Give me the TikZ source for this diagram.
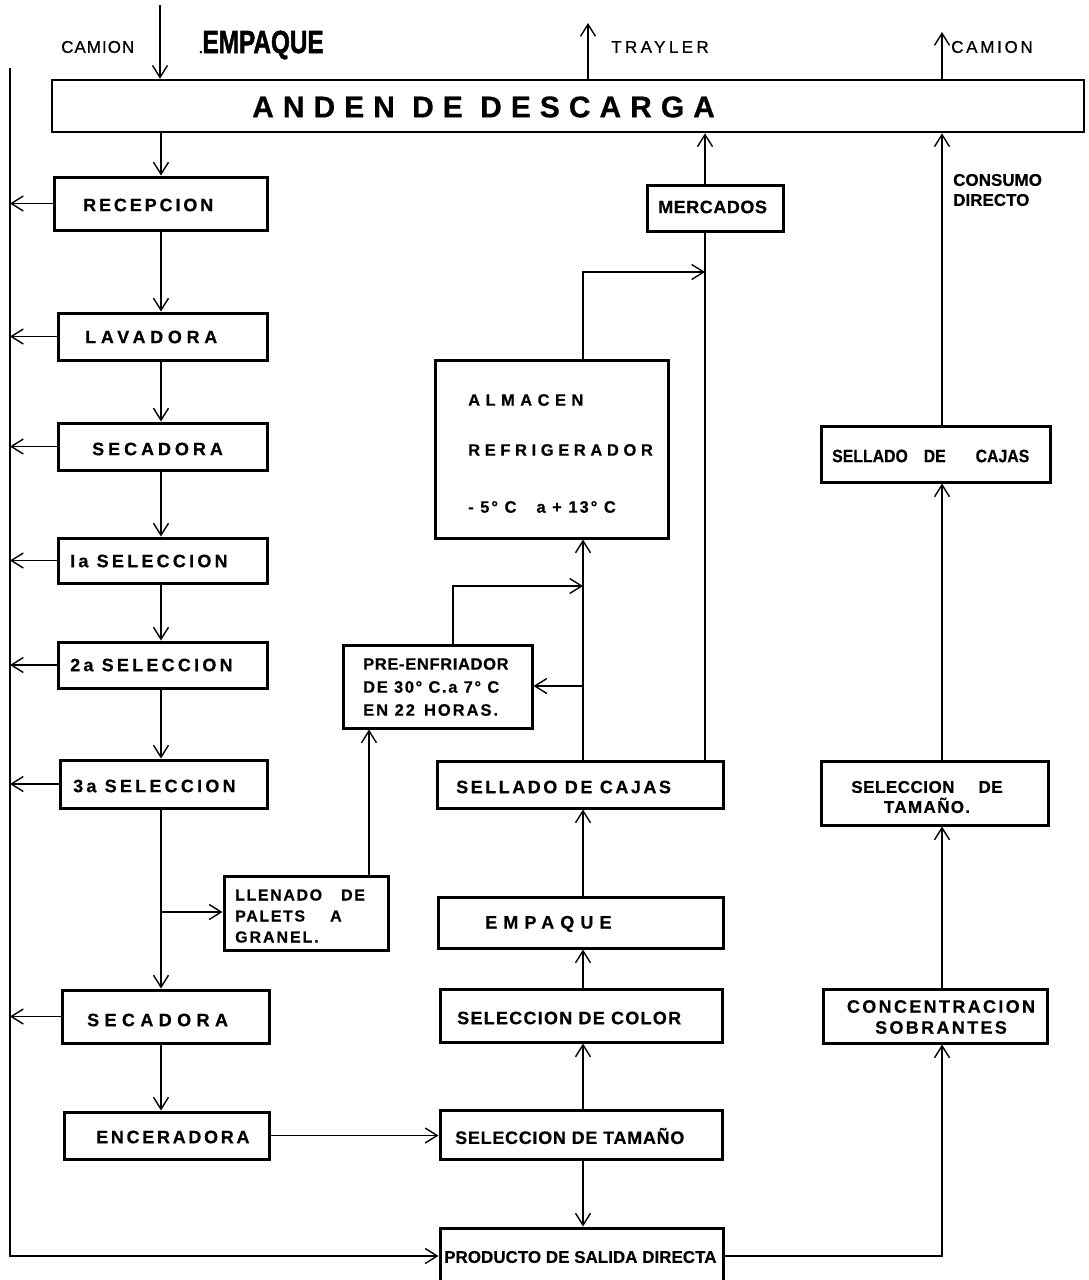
\documentclass[tikz,border=0pt]{standalone}
\usepackage{fontspec}
\setmainfont{Liberation Sans}
\newfontfamily\heavy[FakeBold=1.8]{Liberation Sans Bold}
\newfontfamily\lblfont[FakeBold=0.5]{Liberation Sans Bold}
\newfontfamily\smlfont[FakeBold=0.8]{Liberation Sans}
\usepackage{graphicx}
\usetikzlibrary{arrows.meta,fit}
\newcommand\lsp[2]{{\addfontfeature{LetterSpace=#1}#2}}
\begin{document}
\begin{tikzpicture}[x=1pt,y=-1pt,
  box/.style={draw, line width=3pt, inner sep=0pt},
  lbl/.style={font=\lblfont\fontsize{18}{18}\selectfont, anchor=west, inner sep=0pt},
  sml/.style={font=\smlfont\fontsize{17}{17}\selectfont, anchor=west, inner sep=0pt},
  conn/.style={line width=1.4pt, -{Straight Barb[length=12pt,width=15pt]}},
  plain/.style={line width=1.4pt}]
\useasboundingbox (0,0) rectangle (1089,1280);
% boxes
\node[box, line width=2.6pt, fit={(52,80) (1084,132)}] (anden) {};
\node[box, fit={(54,177) (267,230)}] (rec) {};
\node[box, fit={(58,313) (267,360)}] (lav) {};
\node[box, fit={(58,423) (267,470)}] (sec1) {};
\node[box, fit={(58,538) (267,583)}] (s1) {};
\node[box, fit={(58,642) (267,688)}] (s2) {};
\node[box, fit={(60,760) (267,808)}] (s3) {};
\node[box, fit={(62,990) (269,1043)}] (sec2) {};
\node[box, fit={(64,1112) (269,1159)}] (enc) {};
\node[box, fit={(224,876) (388,950)}] (llen) {};
\node[box, fit={(343,645) (532,728)}] (pre) {};
\node[box, fit={(435,360) (668,538)}] (alm) {};
\node[box, fit={(647,185) (783,231)}] (merc) {};
\node[box, fit={(437,761) (723,808)}] (sell1) {};
\node[box, fit={(438,897) (723,948)}] (emp) {};
\node[box, fit={(440,989) (722,1042)}] (col) {};
\node[box, fit={(440,1110) (722,1159)}] (stam) {};
\node[box, fit={(440,1228) (723,1282)}] (prod) {};
\node[box, fit={(821,426) (1050,482)}] (sell2) {};
\node[box, fit={(821,761) (1048,825)}] (stam2) {};
\node[box, fit={(823,989) (1047,1043)}] (conc) {};
% texts
\node[sml] (tcamL) at (61,47) {\lsp{6}{CAMION}};
\node[lbl, font=\heavy\fontsize{32}{32}\selectfont] (ttit) at (199,45) {{\fontsize{12}{12}\selectfont.}\scalebox{0.76}[1]{EMPAQUE}};
\node[sml] (ttray) at (611,47) {\lsp{20}{TRAYLER}};
\node[sml] (tcamR) at (951,47) {\lsp{16}{CAMION}};
\node[lbl, font=\lblfont\fontsize{30}{30}\selectfont] (tanden) at (252,107) {\lsp{30}{ANDEN DE DESCARGA}};
\node[lbl] (trec) at (83,205) {\lsp{16}{RECEPCION}};
\node[lbl] (tlav) at (85,337) {\lsp{26}{LAVADORA}};
\node[lbl] (tsec1) at (92,449) {\lsp{22}{SECADORA}};
\node[lbl] (ts1) at (70,561) {\lsp{18}{Ia SELECCION}};
\node[lbl] (ts2) at (70,665) {\lsp{18}{2a SELECCION}};
\node[lbl] (ts3) at (73,786) {\lsp{18}{3a SELECCION}};
\node[lbl] (tsec2) at (87,1020) {\lsp{30}{SECADORA}};
\node[lbl] (tenc) at (96,1137) {\lsp{15}{ENCERADORA}};
\node[lbl, font=\lblfont\fontsize{16}{21}\selectfont, align=left] (tllen) at (235,916)
  {\lsp{10}{LLENADO\hspace{19pt}DE}\\\lsp{10}{PALETS\hspace{25pt}A}\\\lsp{12}{GRANEL.}};
\node[lbl, font=\lblfont\fontsize{16.5}{23}\selectfont, align=left] (tpre) at (363,687)
  {\lsp{4}{PRE-ENFRIADOR}\\\lsp{10}{DE 30° C.a 7° C}\\\lsp{12}{EN 22\hspace{9pt}HORAS.}};
\node[lbl, font=\lblfont\fontsize{16.5}{16.5}\selectfont] (talm1) at (468,400) {\lsp{33}{ALMACEN}};
\node[lbl, font=\lblfont\fontsize{16.5}{16.5}\selectfont] (talm2) at (468,450) {\lsp{28}{REFRIGERADOR}};
\node[lbl, font=\lblfont\fontsize{16.5}{16.5}\selectfont] (talm3) at (468,507) {\lsp{12}{- 5° C\hspace{20pt}a + 13° C}};
\node[lbl] (tmerc) at (658,207) {\lsp{3}{MERCADOS}};
\node[lbl, font=\lblfont\fontsize{17}{20}\selectfont, align=left] (tcons) at (953,190) {CONSUMO\\DIRECTO};
\node[lbl] (tsell1) at (456,787) {\lsp{14}{SELLADO DE CAJAS}};
\node[lbl] (temp) at (485,924) {\lsp{34}{EMPAQUE}};
\node[lbl] (tcol) at (457,1018) {\lsp{7}{SELECCION DE COLOR}};
\node[lbl] (tstam) at (455,1136) {\lsp{4}{SELECCION DE TAMAÑO}};
\node[lbl, font=\lblfont\fontsize{17}{17}\selectfont] (tprod) at (444,1257) {PRODUCTO DE SALIDA DIRECTA};
\node[lbl] (tsell2) at (832,456) {\scalebox{0.88}[1]{SELLADO\hspace{18pt}DE\hspace{34pt}CAJAS}};
\node[lbl, anchor=center, font=\lblfont\fontsize{17}{20}\selectfont, align=center] (tstam2) at (927,797)
  {\lsp{3}{SELECCION\hspace{24pt}DE}\\\lsp{8}{TAMAÑO.}};
\node[lbl, anchor=center, font=\lblfont\fontsize{18}{21}\selectfont, align=center] (tconc) at (941,1017)
  {\lsp{13}{CONCENTRACION}\\\lsp{13}{SOBRANTES}};
% coordinates
\coordinate (colM) at (161,0);
\coordinate (colA) at (583,0);
\coordinate (colB) at (705,0);
\coordinate (colC) at (942,0);
\coordinate (colL) at (369,0);
\coordinate (colP) at (453,0);
\coordinate (camin) at (160,5);
\coordinate (trayout) at (588,23);
\coordinate (camout) at (942,32);
\coordinate (bustop) at (10,68);
\coordinate (busbot) at (10,1256);
\coordinate (b912) at (161,912);
\coordinate (p586) at (453,586);
\coordinate (a272) at (583,272);
\coordinate (a686) at (583,686);
\coordinate (pr1256) at (942,1256);
% top arrows
\draw[conn] (camin) -- (camin |- anden.north);
\draw[conn] (trayout |- anden.north) -- (trayout);
\draw[conn] (camout |- anden.north) -- (camout);
% left bus
\draw[conn] (bustop) -- (busbot) -- (busbot -| prod.west);
\foreach \b in {rec,lav,sec1,s1,s2,s3,sec2}
  \draw[conn] (\b.west) -- (\b.west -| bustop);
% main column
\draw[conn] (colM |- anden.south) -- (colM |- rec.north);
\draw[conn] (colM |- rec.south) -- (colM |- lav.north);
\draw[conn] (colM |- lav.south) -- (colM |- sec1.north);
\draw[conn] (colM |- sec1.south) -- (colM |- s1.north);
\draw[conn] (colM |- s1.south) -- (colM |- s2.north);
\draw[conn] (colM |- s2.south) -- (colM |- s3.north);
\draw[conn] (colM |- s3.south) -- (colM |- sec2.north);
\draw[conn] (colM |- sec2.south) -- (colM |- enc.north);
\draw[conn] (b912) -- (b912 -| llen.west);
\draw[conn] (colL |- llen.north) -- (colL |- pre.south);
\draw[conn] (colP |- pre.north) -- (p586) -- (p586 -| colA);
\draw[conn] (enc.east) -- (enc.east -| stam.west);
% middle column
\draw[conn] (colA |- stam.north) -- (colA |- col.south);
\draw[conn] (colA |- col.north) -- (colA |- emp.south);
\draw[conn] (colA |- emp.north) -- (colA |- sell1.south);
\draw[conn] (colA |- stam.south) -- (colA |- prod.north);
\draw[conn] (colA |- sell1.north) -- (colA |- alm.south);
\draw[conn] (a686) -- (a686 -| pre.east);
\draw[conn] (colA |- alm.north) -- (a272) -- (a272 -| colB);
\draw[plain] (colB |- sell1.north) -- (colB |- merc.south);
\draw[conn] (colB |- merc.north) -- (colB |- anden.south);
% right column
\draw[conn] (prod.east |- pr1256) -- (pr1256) -- (colC |- conc.south);
\draw[conn] (colC |- conc.north) -- (colC |- stam2.south);
\draw[conn] (colC |- stam2.north) -- (colC |- sell2.south);
\draw[conn] (colC |- sell2.north) -- (colC |- anden.south);
\end{tikzpicture}
\end{document}
